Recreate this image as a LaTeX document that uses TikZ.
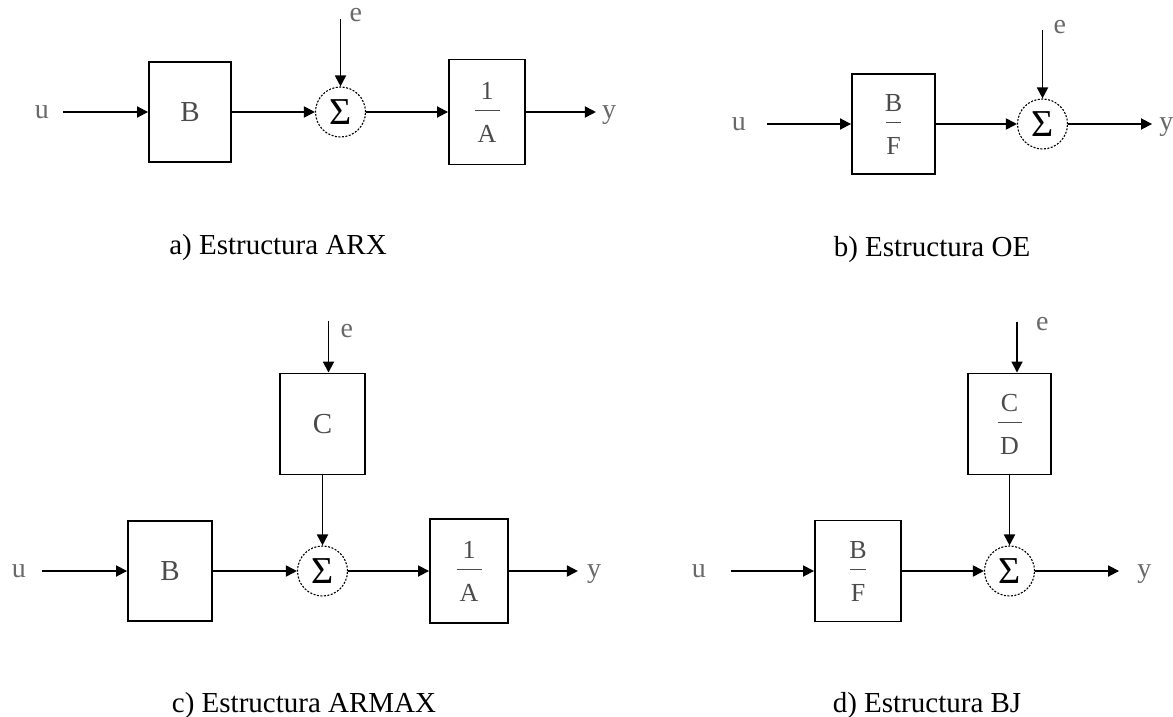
\documentclass[tikz,border=0pt]{standalone}
\usepackage{fontspec}
\setmainfont{Liberation Serif}
\usepackage{xcolor}
\usepackage{tikz}
\usetikzlibrary{positioning,arrows.meta}
\definecolor{inkgray}{RGB}{75,75,75}
\definecolor{siggray}{RGB}{105,105,105}
\newcommand{\blkratio}[3]{#1\\[-19pt]\rule{#3}{1.4pt}\\[0pt]#2}
\tikzset{
  blk/.style={draw, line width=1.9pt, text=inkgray, align=center, inner sep=0pt, font=\fontsize{29}{34}\selectfont},
  fracblk/.style={blk, font=\fontsize{26}{31}\selectfont},
  sumnode/.style={circle, draw, dash pattern=on 2pt off 1.5pt, line width=1.1pt, minimum size=50pt, inner sep=0pt, font=\fontsize{38}{42}\selectfont},
  lab/.style={text=siggray, inner sep=0pt, text depth=0pt, font=\fontsize{28}{33}\selectfont},
  capt/.style={font=\fontsize{29}{35}\selectfont},
  arr/.style={-{Triangle[length=11pt,width=11pt]}, line width=1.8pt},
}
\begin{document}
\begin{tikzpicture}[x=1pt, y=-1pt]
  \useasboundingbox (0,0) rectangle (1173,717);
  % a) ARX
  \node[blk, minimum width=82pt, minimum height=100pt] (aB) at (190,112) {B};
  \node[sumnode, right=83pt of aB] (aS) {Σ};
  \node[fracblk, minimum width=76pt, minimum height=105pt, right=82pt of aS] (aA) {\blkratio{1}{A}{25pt}};
  \coordinate[left=85pt of aB] (ain);
  \coordinate[right=70pt of aA] (aout);
  \coordinate[above=67pt of aS] (ae);
  \node[lab, left=14pt of ain] (au) {u};
  \node[lab, right=6pt of aout] (ay) {y};
  \node[lab, right=9pt of ae, yshift=5pt] (ael) {e};
  \draw[arr] (ain) -- (aB);
  \draw[arr] (aB) -- (aS);
  \draw[arr] (aS) -- (aA);
  \draw[arr] (aA) -- (aout);
  \draw[arr] (ae) -- (aS);
  \node[capt, anchor=base] (acap) at (278,254) {a) Estructura ARX};
  % b) OE
  \node[fracblk, minimum width=83pt, minimum height=100pt] (bBF) at (893.5,124) {\blkratio{B}{F}{15pt}};
  \node[sumnode, right=81pt of bBF] (bS) {Σ};
  \coordinate[left=84pt of bBF] (bin);
  \coordinate[right=84pt of bS] (bout);
  \coordinate[above=68pt of bS] (be);
  \node[lab, left=21pt of bin] (bu) {u};
  \node[lab, right=7pt of bout] (by) {y};
  \node[lab, right=11pt of be, yshift=4pt] (bel) {e};
  \draw[arr] (bin) -- (bBF);
  \draw[arr] (bBF) -- (bS);
  \draw[arr] (bS) -- (bout);
  \draw[arr] (be) -- (bS);
  \node[capt, anchor=base] (bcap) at (932,256) {b) Estructura OE};
  % c) ARMAX
  \node[blk, minimum width=84pt, minimum height=100pt] (cB) at (170,571) {B};
  \node[sumnode, right=84pt of cB] (cS) {Σ};
  \node[fracblk, minimum width=78pt, minimum height=104pt, right=81pt of cS] (cA) {\blkratio{1}{A}{25pt}};
  \node[blk, minimum width=85pt, minimum height=101pt, above=70pt of cS] (cC) {C};
  \coordinate[left=85pt of cB] (cin);
  \coordinate[right=69pt of cA] (cout);
  \coordinate (ce) at ([xshift=6pt,yshift=52pt]cC.north);
  \node[lab, left=16pt of cin] (cu) {u};
  \node[lab, right=9pt of cout] (cy) {y};
  \node[lab, right=12pt of ce, yshift=-10pt] (cel) {e};
  \draw[arr] (cin) -- (cB);
  \draw[arr] (cB) -- (cS);
  \draw[arr] (cS) -- (cA);
  \draw[arr] (cA) -- (cout);
  \draw[arr] (ce) -- (ce |- cC.north);
  \draw[arr] (cC) -- (cS);
  \node[capt, anchor=base] (ccap) at (304,712) {c) Estructura ARMAX};
  % d) BJ
  \node[fracblk, minimum width=86pt, minimum height=101pt] (dBF) at (858,571) {\blkratio{B}{F}{16pt}};
  \node[sumnode, right=82pt of dBF] (dS) {Σ};
  \node[fracblk, minimum width=83pt, minimum height=101pt, above=70pt of dS] (dCD) {\blkratio{C}{D}{24pt}};
  \coordinate[left=83pt of dBF] (din);
  \coordinate[right=84pt of dS] (dout);
  \coordinate (de) at ([xshift=7.5pt,yshift=51pt]dCD.north);
  \node[lab, left=25pt of din] (du) {u};
  \node[lab, right=18pt of dout] (dy) {y};
  \node[lab, right=19pt of de, yshift=-2pt] (del) {e};
  \draw[arr] (din) -- (dBF);
  \draw[arr] (dBF) -- (dS);
  \draw[arr] (dS) -- (dout);
  \draw[arr] (de) -- (de |- dCD.north);
  \draw[arr] (dCD) -- (dS);
  \node[capt, anchor=base] (dcap) at (927,712) {d) Estructura BJ};
\end{tikzpicture}
\end{document}
